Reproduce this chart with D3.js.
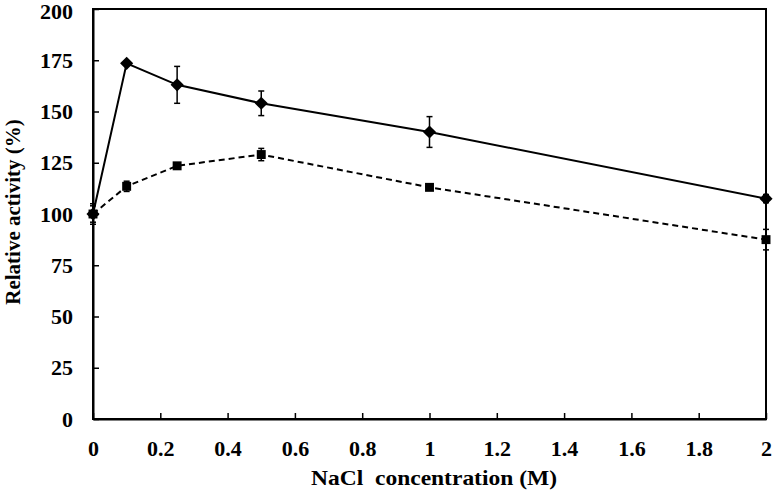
<!DOCTYPE html>
<html><head><meta charset="utf-8">
<script src="https://cdn.jsdelivr.net/npm/d3@7"></script>
<style>body{margin:0;background:#fff}svg{display:block}
svg text{font-family:"Liberation Serif","Times New Roman","DejaVu Serif",serif !important;font-weight:bold;fill:#000}</style>
</head><body>
<svg id="c" width="774" height="498"></svg>
<script>
const conc = [0, 0.1, 0.25, 0.5, 1, 2];
const activityA = [100, 173.5, 163, 154, 140, 107.5];
const errorA = [4, 1, 9, 6, 7.5, 2];
const activityB = [100, 113.5, 123.5, 129, 113, 87.5];
const errorB = [5, 2.5, 1, 3, 1, 5];
const xTicks = [0, 0.2, 0.4, 0.6, 0.8, 1, 1.2, 1.4, 1.6, 1.8, 2];
const yTicks = [0, 25, 50, 75, 100, 125, 150, 175, 200];

const svg = d3.select("#c");
const L = 93, R = 766, T = 9, B = 419;
const x = d3.scaleLinear().domain([0, 2]).range([L, R]);
const y = d3.scaleLinear().domain([0, 200]).range([B, T]);

// frame
svg.append("rect").attr("x", L).attr("y", T).attr("width", R - L).attr("height", B - T)
  .attr("fill", "none").attr("stroke", "#000").attr("stroke-width", 2);

// y axis (ticks inward)
const ya = svg.append("g").attr("transform", `translate(${L},0)`)
  .call(d3.axisLeft(y).tickValues(yTicks).tickSizeInner(-6).tickSizeOuter(0).tickPadding(20).tickFormat(d3.format("d")));
ya.select(".domain").attr("stroke-width", 2);
ya.selectAll(".tick line").attr("stroke-width", 1.5);
ya.selectAll("text").style("font-size", "22px");
ya.selectAll(".tick").filter(d => d === 200).select("text").attr("y", 2);

// x axis (ticks inward)
const xa = svg.append("g").attr("transform", `translate(0,${B})`)
  .call(d3.axisBottom(x).tickValues(xTicks).tickSizeInner(-6).tickSizeOuter(0).tickPadding(21).tickFormat(d => String(d)));
xa.select(".domain").attr("stroke-width", 2);
xa.selectAll(".tick line").attr("stroke-width", 1.5);
xa.selectAll("text").style("font-size", "22px");

// titles
svg.append("text").attr("transform", `translate(20,${(T + B) / 2 - 2}) rotate(-90)`)
  .attr("text-anchor", "middle").style("font-size", "21px")
  .text("Relative activity (%)");
svg.append("text").attr("x", 434).attr("y", 485).attr("text-anchor", "middle")
  .attr("textLength", 246).attr("lengthAdjust", "spacingAndGlyphs")
  .style("font-size", "21px").style("white-space", "pre")
  .text("NaCl  concentration (M)");

function drawSeries(vals, errs, dash, symbol, size) {
  const pts = conc.map((c, i) => ({c, v: vals[i], e: errs[i]}));
  const line = d3.line().x(d => x(d.c)).y(d => y(d.v));
  svg.append("path").datum(pts).attr("d", line).attr("fill", "none").attr("stroke", "#000")
    .attr("stroke-width", 2).attr("stroke-dasharray", dash);
  const g = svg.append("g");
  pts.forEach(d => {
    const cx = x(d.c), y1 = y(d.v + d.e), y2 = y(d.v - d.e);
    g.append("line").attr("x1", cx).attr("x2", cx).attr("y1", y1).attr("y2", y2).attr("stroke", "#000").attr("stroke-width", 1.5);
    g.append("line").attr("x1", cx - 3).attr("x2", cx + 3).attr("y1", y1).attr("y2", y1).attr("stroke", "#000").attr("stroke-width", 1.5);
    g.append("line").attr("x1", cx - 3).attr("x2", cx + 3).attr("y1", y2).attr("y2", y2).attr("stroke", "#000").attr("stroke-width", 1.5);
  });
  g.selectAll("path.m").data(pts).join("path").attr("class", "m")
    .attr("d", d3.symbol().type(symbol).size(size))
    .attr("transform", d => `translate(${x(d.c)},${y(d.v)})`).attr("fill", "#000");
}
drawSeries(activityB, errorB, "6,4", d3.symbolSquare, 80);
drawSeries(activityA, errorA, null, d3.symbolDiamond2, 110);
</script>
</body></html>
